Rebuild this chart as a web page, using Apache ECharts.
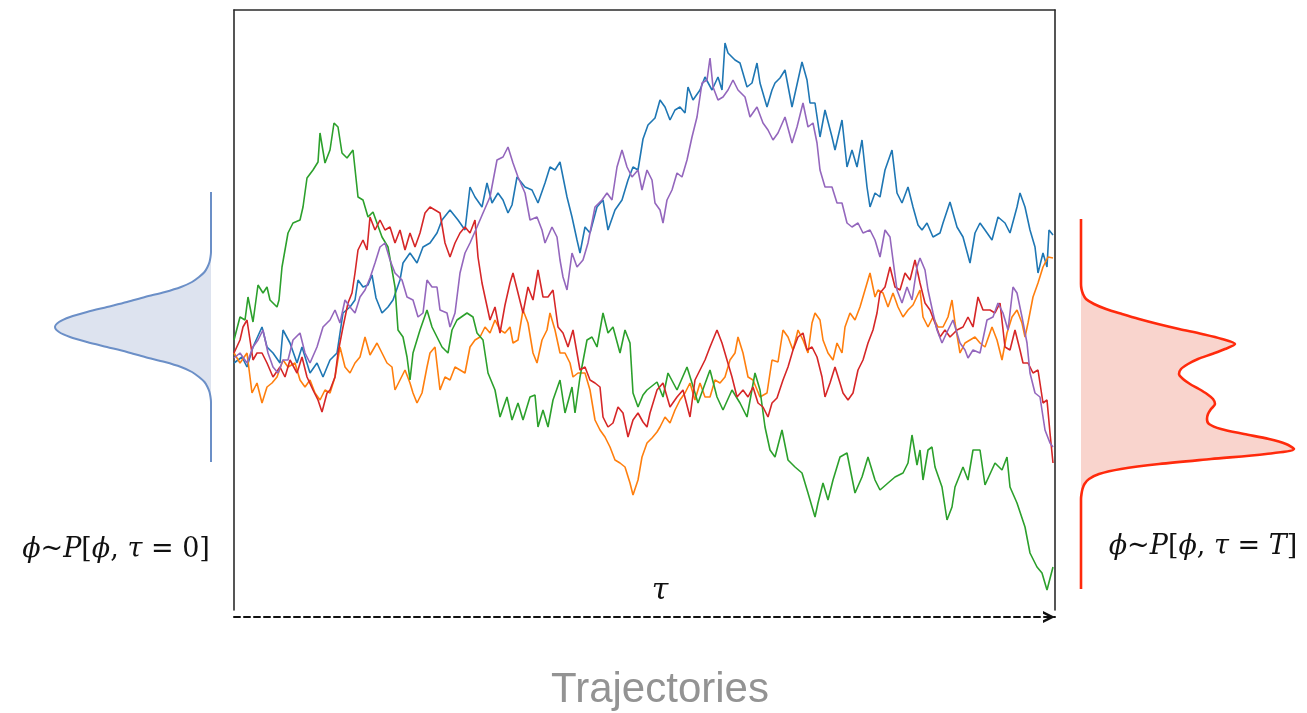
<!DOCTYPE html>
<html>
<head>
<meta charset="utf-8">
<script src="https://cdn.jsdelivr.net/npm/echarts@6/dist/echarts.min.js"></script>
<style>
  html, body { margin: 0; padding: 0; background: #ffffff; }
  #chart { width: 1307px; height: 713px; }
</style>
</head>
<body>
<div id="chart"></div>
<script>
// Five Langevin trajectories phi(tau), as [tau, phi] samples
const trajBlue = [[0,-53],[8,-47],[13,-57],[19,-37],[28,-17],[33,-37],[39,-43],[46,-53],[49,-20],[56,-33],[63,-53],[68,-37],[76,-63],[83,-53],[89,-67],[96,-50],[103,-43],[109,-3],[116,3],[121,10],[124,30],[129,23],[134,25],[138,35],[142,12],[148,-3],[154,3],[159,10],[166,30],[169,47],[176,57],[183,47],[189,63],[196,67],[203,77],[208,90],[216,100],[224,90],[231,80],[236,123],[241,113],[248,103],[253,127],[258,107],[264,117],[269,110],[274,97],[278,105],[283,133],[291,123],[298,120],[304,107],[311,127],[316,143],[321,140],[326,148],[333,113],[338,93],[343,70],[346,57],[351,83],[356,77],[363,103],[369,110],[374,80],[381,100],[388,110],[394,130],[399,143],[404,140],[409,171],[414,185],[421,192],[426,210],[431,203],[436,190],[441,200],[446,203],[451,197],[454,223],[459,210],[466,220],[471,233],[478,220],[484,233],[488,220],[491,267],[494,257],[501,250],[506,247],[513,223],[518,227],[523,247],[526,227],[533,203],[538,220],[541,227],[546,232],[551,240],[558,203],[564,230],[568,248],[573,230],[576,207],[581,207],[586,173],[591,200],[598,173],[601,160],[608,190],[613,143],[618,160],[623,143],[628,170],[633,123],[636,103],[641,117],[646,113],[651,140],[658,160],[663,117],[668,107],[674,123],[679,103],[684,85],[688,80],[693,87],[699,73],[706,77],[709,87],[716,108],[723,83],[729,73],[736,47],[741,77],[746,87],[751,80],[758,70],[764,93],[771,87],[776,77],[783,103],[786,117],[791,103],[796,80],[801,63],[804,37],[809,57],[813,43],[815,80],[819,75]];

const trajOrange = [[0,-43],[6,-53],[13,-43],[18,-83],[23,-73],[28,-93],[33,-77],[38,-73],[43,-67],[49,-50],[54,-57],[61,-53],[66,-70],[71,-77],[76,-70],[81,-83],[86,-90],[91,-80],[96,-83],[101,-67],[106,-37],[111,-57],[116,-63],[121,-53],[126,-47],[131,-27],[136,-45],[143,-33],[148,-43],[153,-53],[158,-57],[161,-80],[166,-70],[171,-60],[176,-73],[179,-83],[183,-93],[188,-83],[193,-57],[196,-43],[201,-37],[206,-80],[211,-67],[216,-70],[221,-57],[226,-60],[231,-63],[236,-37],[241,-30],[246,-27],[251,-17],[256,-23],[261,-10],[266,-20],[271,-23],[276,-17],[279,-33],[284,-30],[289,0],[294,-13],[299,-43],[303,-53],[308,-30],[313,-20],[316,-3],[321,-20],[326,-43],[331,-43],[336,-53],[339,-67],[344,-63],[351,-63],[356,-80],[361,-110],[366,-120],[371,-127],[376,-137],[381,-150],[386,-153],[391,-157],[396,-173],[399,-185],[404,-170],[408,-147],[413,-133],[418,-128],[423,-122],[426,-117],[431,-107],[436,-113],[441,-100],[446,-90],[451,-83],[456,-73],[461,-90],[466,-73],[471,-87],[476,-87],[481,-70],[486,-73],[491,-67],[496,-50],[501,-43],[504,-27],[509,-43],[514,-67],[519,-70],[526,-87],[533,-83],[538,-50],[544,-52],[549,-20],[554,-27],[559,-40],[564,-20],[569,-30],[574,-43],[578,-13],[581,-3],[586,-10],[589,-30],[594,-43],[599,-50],[603,-33],[608,-43],[611,-17],[616,-3],[621,-10],[626,3],[631,20],[636,37],[641,13],[644,20],[649,17],[654,3],[659,17],[664,3],[669,-7],[674,0],[679,5],[686,20],[689,-7],[694,-17],[699,-7],[704,-17],[709,-17],[714,-7],[718,10],[721,-13],[726,-43],[731,-33],[736,-30],[741,-27],[746,-33],[751,-37],[758,-17],[763,-30],[768,-50],[773,-23],[778,-7],[783,0],[788,-13],[791,-27],[794,-13],[799,13],[804,27],[809,43],[814,53],[819,52]];

const trajGreen = [[0,-30],[6,-7],[11,-10],[14,13],[19,-12],[24,25],[29,17],[33,23],[36,10],[43,3],[45,10],[48,43],[54,77],[59,87],[66,90],[69,103],[73,132],[79,140],[84,148],[86,177],[91,147],[96,160],[100,187],[104,183],[108,157],[113,152],[119,160],[124,113],[129,110],[134,93],[139,98],[148,73],[154,63],[161,23],[164,-20],[169,-27],[173,-47],[176,-70],[179,-43],[186,-20],[193,0],[198,-17],[203,-27],[208,-37],[214,-43],[218,-20],[223,-10],[233,-3],[239,-7],[243,-23],[249,-30],[254,-63],[261,-80],[266,-107],[273,-87],[278,-110],[284,-93],[289,-110],[296,-87],[301,-85],[304,-117],[309,-100],[314,-117],[319,-90],[326,-70],[331,-103],[338,-77],[341,-103],[346,-67],[353,-30],[358,-27],[363,-37],[369,-3],[374,-23],[379,-17],[386,-43],[391,-20],[396,-33],[399,-83],[404,-97],[409,-85],[413,-80],[423,-72],[429,-87],[434,-63],[443,-80],[453,-57],[458,-73],[464,-93],[476,-60],[483,-87],[489,-100],[498,-80],[506,-93],[513,-107],[521,-63],[526,-80],[531,-117],[536,-140],[541,-147],[548,-120],[554,-150],[561,-157],[568,-163],[574,-183],[581,-207],[584,-193],[589,-173],[594,-190],[599,-170],[606,-147],[613,-143],[621,-183],[628,-167],[634,-147],[641,-170],[646,-180],[654,-173],[661,-167],[669,-163],[674,-153],[678,-125],[683,-155],[686,-140],[689,-170],[694,-140],[698,-137],[701,-157],[708,-177],[713,-210],[718,-197],[721,-177],[729,-157],[734,-170],[739,-140],[746,-140],[751,-175],[761,-153],[768,-160],[773,-147],[776,-177],[783,-193],[791,-217],[796,-243],[803,-257],[808,-263],[813,-280],[819,-257]];

const trajRed = [[0,-43],[6,-30],[9,-17],[13,-10],[16,-30],[19,-50],[23,-43],[28,-43],[33,-53],[39,-67],[46,-57],[51,-67],[56,-50],[63,-63],[68,-47],[73,-67],[79,-80],[84,-90],[88,-102],[93,-83],[96,-80],[101,-67],[104,-43],[109,-17],[114,7],[118,17],[121,37],[124,60],[129,70],[133,60],[136,93],[141,80],[146,90],[151,80],[156,83],[161,67],[166,80],[171,60],[176,77],[181,63],[186,77],[191,97],[196,103],[201,100],[206,97],[211,67],[216,53],[221,67],[226,77],[231,83],[236,77],[241,90],[244,53],[248,27],[251,13],[256,-10],[261,3],[266,-23],[271,5],[276,27],[279,37],[284,17],[289,-3],[294,23],[299,10],[304,40],[309,13],[314,13],[319,20],[324,-17],[329,-23],[334,-37],[339,-20],[343,-43],[346,-60],[351,-57],[356,-70],[361,-73],[366,-77],[369,-107],[374,-117],[379,-113],[384,-97],[389,-103],[394,-127],[399,-110],[404,-103],[409,-112],[413,-117],[416,-103],[423,-80],[429,-73],[436,-97],[443,-87],[449,-80],[456,-107],[461,-70],[466,-60],[471,-50],[476,-37],[483,-20],[488,-33],[493,-50],[498,-67],[503,-87],[509,-80],[514,-87],[519,-77],[524,-93],[529,-97],[534,-107],[538,-93],[543,-88],[549,-70],[554,-57],[559,-40],[564,-27],[569,-23],[573,-40],[578,-37],[583,-47],[588,-67],[591,-87],[596,-73],[601,-57],[606,-73],[609,-83],[614,-90],[619,-83],[624,-60],[629,-50],[634,-33],[639,-20],[643,-3],[646,17],[651,23],[656,43],[661,23],[666,20],[671,37],[676,30],[681,50],[686,27],[691,7],[696,0],[701,-13],[706,-27],[711,-20],[716,-27],[723,-20],[729,-17],[734,-7],[739,-17],[744,13],[749,0],[756,0],[761,-3],[766,7],[771,-37],[776,-40],[781,-20],[786,-40],[789,-53],[794,-53],[799,-63],[804,-60],[809,-93],[813,-90],[816,-123],[819,-153]];

const trajPurple = [[0,-48],[6,-43],[13,-53],[19,-37],[24,-30],[29,-20],[34,-43],[39,-57],[44,-63],[49,-50],[54,-50],[59,-30],[66,-23],[71,-43],[76,-53],[83,-37],[89,-17],[96,-10],[101,0],[106,-13],[111,10],[116,3],[121,-3],[126,13],[131,20],[136,32],[141,47],[146,63],[151,67],[156,50],[161,37],[168,30],[173,13],[179,10],[184,-7],[189,-3],[193,30],[198,23],[203,23],[206,0],[213,-3],[216,-17],[221,-3],[226,37],[231,57],[236,67],[243,83],[249,97],[256,113],[263,150],[269,153],[274,163],[279,147],[284,133],[291,117],[296,90],[303,93],[308,80],[311,67],[318,83],[323,73],[326,50],[329,33],[333,20],[338,57],[343,43],[349,50],[354,67],[361,103],[368,110],[373,117],[378,110],[383,143],[388,160],[393,143],[398,133],[404,140],[408,120],[413,140],[418,130],[421,107],[426,100],[429,87],[433,110],[438,120],[443,137],[448,133],[453,150],[458,173],[463,193],[468,227],[473,230],[476,252],[479,223],[484,210],[489,213],[494,220],[499,230],[504,220],[511,213],[516,193],[523,203],[529,187],[534,180],[539,170],[544,177],[551,193],[558,167],[563,183],[569,207],[574,183],[579,187],[583,167],[586,140],[591,123],[598,123],[603,107],[608,107],[613,87],[618,83],[624,87],[629,77],[636,80],[641,70],[646,53],[651,80],[656,73],[659,50],[663,20],[668,7],[673,23],[678,10],[683,43],[686,52],[691,40],[694,20],[699,-3],[703,-20],[708,-33],[714,-20],[719,-10],[726,-33],[731,-40],[734,-48],[739,-40],[746,-43],[753,-10],[759,-7],[764,7],[769,-3],[774,-20],[779,23],[783,17],[788,-7],[793,-33],[796,-63],[801,-83],[806,-87],[811,-120],[816,-133],[819,-137]];

// Initial distribution P[phi, tau=0] (phi grid, top to bottom) and its density
const phiStart = [118,113,108,103,98,93,88,83,78,73,68,63,58,53,48,43,38,33,28,23,18,13,8,3,-2,-7,-12,-17,-22,-27,-32,-37,-42,-47,-52,-57,-62,-67,-72,-77,-82,-87,-92,-97,-102,-107,-112,-117,-122,-127,-132,-137,-142,-147,-152];
const densStart = [0,0,0,0,0,0,0,0,0,0,0,0,0,0.5,1.5,3.5,6.5,12,19,30,46,66,84,104,124,141,152,156,152,141,124,104,84,66,46,30,19,12,6.5,3.5,1.5,0.5,0,0,0,0,0,0,0,0,0,0,0,0,0];

// Final distribution P[phi, tau=T]
const phiEnd = [91,86,81,76,71,66,61,56,51,46,41,36,31,26,21,16,11,6,1,-4,-9,-14,-19,-24,-29,-34,-39,-44,-49,-54,-59,-64,-69,-74,-79,-84,-89,-94,-99,-104,-109,-114,-119,-124,-129,-134,-139,-144,-149,-154,-159,-164,-169,-174,-179,-184,-189,-194,-199,-204,-209,-214,-219,-224,-229,-234,-239,-244,-249,-254,-259,-264,-269,-274,-279];
const densEnd = [0,0,0,0,0,0,0,0,0,0,0,0,0,0,0.5,2,5,13,25,41,58,77,98,121,141,154,144,131,117,107,100,98,102,109,118,126,132,134,130,127,126,128,140,163,188,205,213,185,130,78,40,18,8,3.5,1.5,0.5,0,0,0,0,0,0,0,0,0,0,0,0,0,0,0,0,0,0,0];

const TAU_MAX = 821;
const PHI_MIN = -300, PHI_MAX = 300;

const palette = { blue: '#1f77b4', orange: '#ff7f0e', green: '#2ca02c', red: '#d62728', purple: '#9467bd' };
const trajectories = [
  { name: 'blue', data: trajBlue },
  { name: 'orange', data: trajOrange },
  { name: 'green', data: trajGreen },
  { name: 'red', data: trajRed },
  { name: 'purple', data: trajPurple }
];

const frameLine = { show: true, onZero: false, lineStyle: { color: '#2b2b2b', width: 1.6 } };
const hidden = { show: false };

const mathFont = '"DejaVu Serif", "Liberation Serif", serif';
const mathRich = {
  i: { fontFamily: mathFont, fontStyle: 'italic', fontSize: 27, fill: '#111' },
  n: { fontFamily: mathFont, fontSize: 27, fill: '#111' }
};
function phiLabel(endSym) {
  return '{i|ϕ}{n|~}{i|P}{n|[}{i|ϕ}{n|, }{i|τ}{n| = }' + endSym + '{n|]}';
}

const chart = echarts.init(document.getElementById('chart'), null, { renderer: 'canvas' });

const option = {
  backgroundColor: '#ffffff',
  animation: false,
  grid: [
    { left: 234, top: 10, width: 821, height: 600 },
    { left: 11, top: 192, width: 200, height: 270 },
    { left: 1081, top: 219, width: 220, height: 370 }
  ],
  xAxis: [
    { gridIndex: 0, type: 'value', min: 0, max: TAU_MAX, position: 'top',
      axisLine: frameLine, axisTick: hidden, axisLabel: hidden, splitLine: hidden },
    { gridIndex: 0, type: 'value', min: 0, max: TAU_MAX, position: 'bottom', offset: 7,
      axisLine: {
        show: true,
        onZero: false,
        symbol: ['none', 'path://M0,10 L5,0 L10,10 L7.7,10 L5,4.6 L2.3,10 Z'],
        symbolSize: [12, 12],
        symbolOffset: [0, -6],
        lineStyle: { color: '#111', width: 2, type: [6, 4] }
      },
      axisTick: hidden, axisLabel: hidden, splitLine: hidden },
    { gridIndex: 1, type: 'value', min: 0, max: 200, inverse: true, show: false },
    { gridIndex: 2, type: 'value', min: 0, max: 220, show: false }
  ],
  yAxis: [
    { gridIndex: 0, type: 'value', min: PHI_MIN, max: PHI_MAX, position: 'left',
      axisLine: frameLine, axisTick: hidden, axisLabel: hidden, splitLine: hidden },
    { gridIndex: 0, type: 'value', min: PHI_MIN, max: PHI_MAX, position: 'right',
      axisLine: frameLine, axisTick: hidden, axisLabel: hidden, splitLine: hidden },
    { gridIndex: 1, type: 'category', data: phiStart, inverse: true, boundaryGap: false, show: false },
    { gridIndex: 2, type: 'category', data: phiEnd, inverse: true, boundaryGap: false, show: false }
  ],
  series: trajectories.map(t => ({
    type: 'line',
    name: t.name,
    xAxisIndex: 0,
    yAxisIndex: 0,
    data: t.data,
    showSymbol: false,
    symbol: 'none',
    lineStyle: { color: palette[t.name], width: 1.6 },
    silent: true
  })).concat([
    {
      type: 'line', name: 'P0', xAxisIndex: 2, yAxisIndex: 2, data: densStart,
      symbol: 'none', smooth: 0.3,
      lineStyle: { color: '#6b8fc7', width: 2 },
      areaStyle: { color: '#dde3ef', opacity: 1 },
      silent: true
    },
    {
      type: 'line', name: 'PT', xAxisIndex: 3, yAxisIndex: 3, data: densEnd,
      symbol: 'none', smooth: 0.3,
      lineStyle: { color: '#ff2a0c', width: 2.6 },
      areaStyle: { color: '#f9d4cd', opacity: 1 },
      silent: true
    }
  ]),
  graphic: [
    { type: 'text', x: 116, y: 550, style: { text: phiLabel('{n|0}'), rich: mathRich, align: 'center', verticalAlign: 'middle', textAlign: 'center', textVerticalAlign: 'middle' } },
    { type: 'text', x: 1203, y: 547, style: { text: phiLabel('{i|T}'), rich: mathRich, align: 'center', verticalAlign: 'middle', textAlign: 'center', textVerticalAlign: 'middle' } },
    { type: 'text', x: 660, y: 591, style: { text: 'τ', fontFamily: mathFont, fontStyle: 'italic', fontSize: 30, fill: '#111', align: 'center', verticalAlign: 'middle', textAlign: 'center', textVerticalAlign: 'middle' } },
    { type: 'text', x: 660, y: 690, style: { text: 'Trajectories', fontFamily: '"Liberation Sans", Arial, sans-serif', fontSize: 42, fill: '#939393', align: 'center', verticalAlign: 'middle', textAlign: 'center', textVerticalAlign: 'middle' } }
  ]
};

chart.setOption(option);
</script>
</body>
</html>
